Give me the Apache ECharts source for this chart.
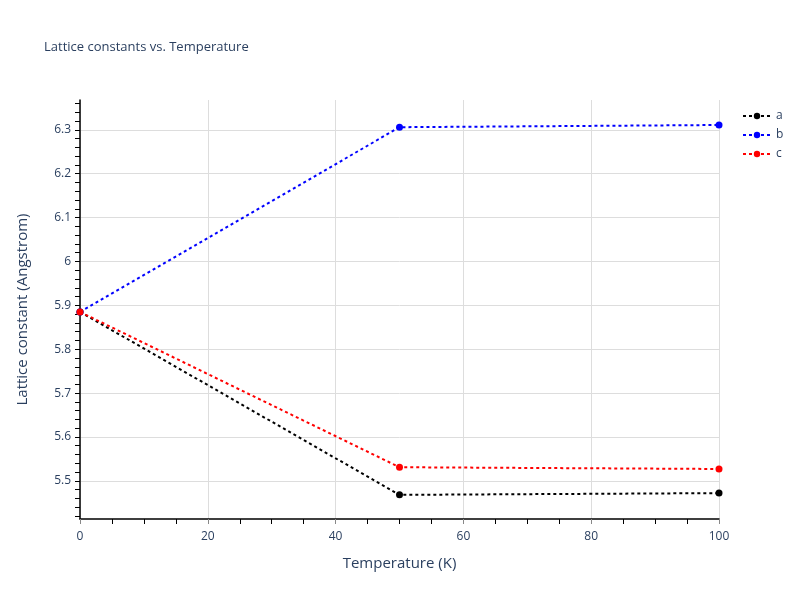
<!DOCTYPE html>
<html><head><meta charset="utf-8">
<script src="https://cdn.jsdelivr.net/npm/echarts@6/dist/echarts.min.js"></script>
<style>html,body{margin:0;padding:0;background:#fff}#c{width:800px;height:600px}</style>
</head><body><div id="c"></div>
<script>
var temps = [0, 50, 100];
var aVals = [5.885, 5.468, 5.472];
var bVals = [5.885, 6.306, 6.311];
var cVals = [5.885, 5.531, 5.527];
var yTickLabels = [5.5, 5.6, 5.7, 5.8, 5.9, 6.0, 6.1, 6.2, 6.3];
var yMinorTicks = [5.42,5.44,5.46,5.48,5.5,5.52,5.54,5.56,5.58,5.6,5.62,5.64,5.66,5.68,5.7,5.72,5.74,5.76,5.78,5.8,5.82,5.84,5.86,5.88,5.9,5.92,5.94,5.96,5.98,6.0,6.02,6.04,6.06,6.08,6.1,6.12,6.14,6.16,6.18,6.2,6.22,6.24,6.26,6.28,6.3,6.32,6.34,6.36];
var yMin = 5.413, yMax = 6.368;
var FONT = '"Open Sans", "DejaVu Sans", sans-serif';
var TXT = '#2a3f5f';
function pts(v){ return temps.map(function(t,i){return [t, v[i]];}); }
function mk(name, vals, color){
  return {name:name, type:'line', data:pts(vals), yAxisIndex:0,
    symbol:'circle', symbolSize:7, color:color,
    itemStyle:{color:color},
    lineStyle:{color:color, width:2, type:[3,3]}};
}
var chart = echarts.init(document.getElementById('c'));
chart.setOption({
  animation:false,
  title:{text:'Lattice constants vs. Temperature', left:39, top:36,
    textStyle:{fontFamily:FONT, fontSize:13, fontWeight:'normal', color:TXT}},
  legend:{orient:'vertical', left:737, top:104, itemGap:5, itemWidth:28, itemHeight:8,
    textStyle:{fontFamily:FONT, fontSize:12, color:TXT, lineHeight:14}},
  grid:{left:80, right:81, top:100, bottom:81, containLabel:false},
  xAxis:{type:'value', min:0, max:100, interval:20,
    name:'Temperature (K)', nameLocation:'middle', nameGap:37,
    nameTextStyle:{fontFamily:FONT, fontSize:15, color:TXT},
    axisLine:{show:true, onZero:false, lineStyle:{color:'#000', width:1.5}},
    axisTick:{show:true, length:5, lineStyle:{color:'#888'}},
    minorTick:{show:true, splitNumber:4, length:5, lineStyle:{color:'#000'}},
    axisLabel:{fontFamily:FONT, fontSize:12, color:TXT, margin:12},
    splitLine:{show:true, lineStyle:{color:'#dddddd', width:1}}},
  yAxis:[{type:'value', min:yMin, max:yMax, position:'left',
    name:'Lattice constant (Angstrom)', nameLocation:'middle', nameGap:50,
    nameTextStyle:{fontFamily:FONT, fontSize:15, color:TXT},
    axisLine:{show:true, onZero:false, lineStyle:{color:'#000', width:1.5}},
    axisTick:{show:true, length:5, customValues:yMinorTicks, lineStyle:{color:'#000'}},
    axisLabel:{fontFamily:FONT, fontSize:12, color:TXT, margin:9, customValues:yTickLabels},
    splitLine:{show:false}},
   {type:'value', min:yMin, max:yMax, position:'left',
    axisLine:{show:false}, axisLabel:{show:false},
    axisTick:{show:false, customValues:yTickLabels},
    splitLine:{show:true, lineStyle:{color:'#dddddd', width:1}}}],
  series:[mk('a', aVals, '#000000'), mk('b', bVals, '#0000ff'), mk('c', cVals, '#ff0000')]
});
</script></body></html>
